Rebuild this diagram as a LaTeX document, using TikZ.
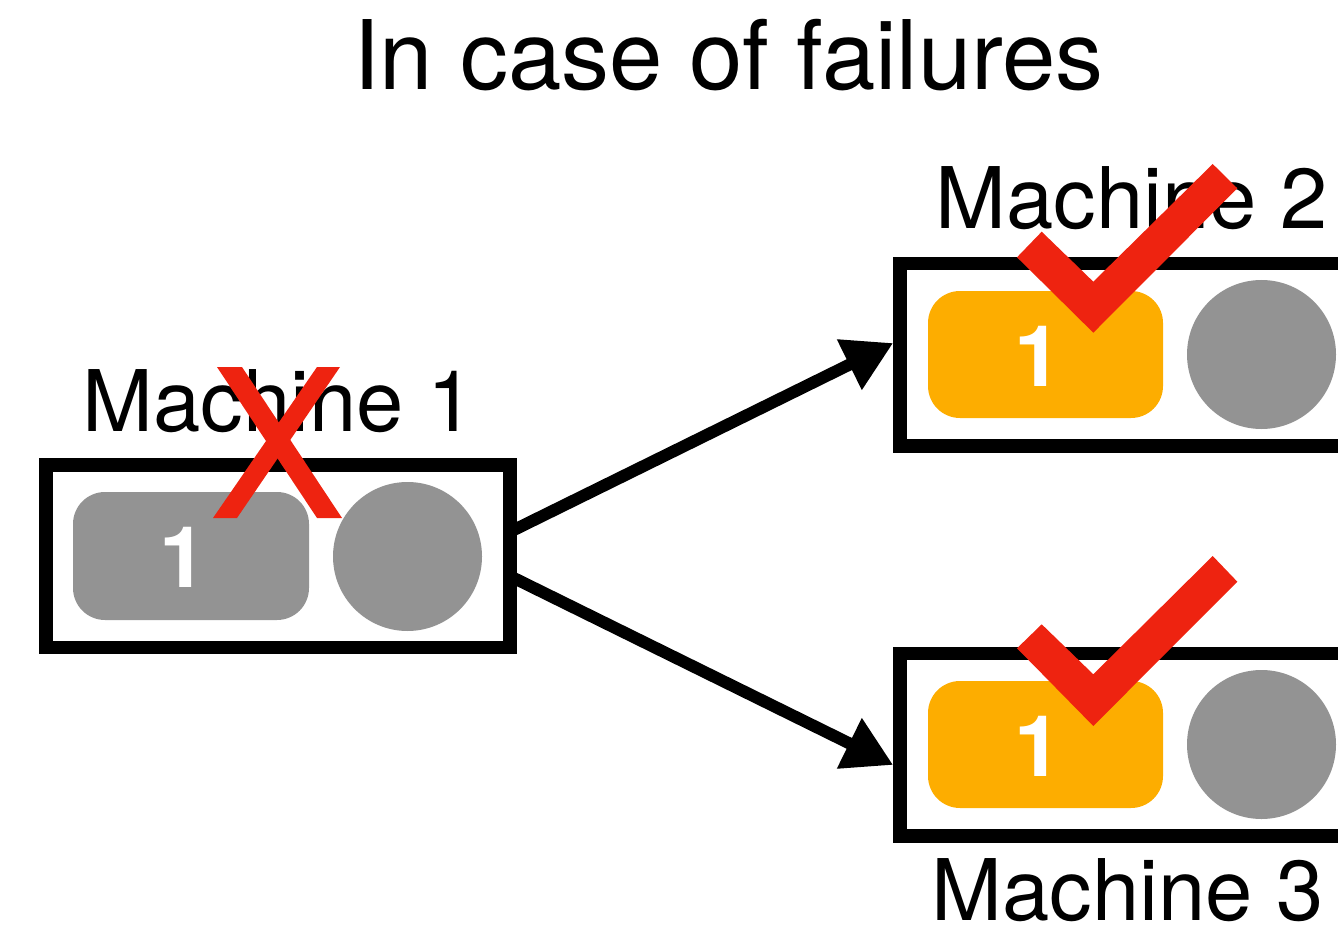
\documentclass[tikz,border=0pt]{standalone}
\usepackage{fontspec}
\setmainfont{TeX Gyre Heros}
\usetikzlibrary{arrows.meta}
\definecolor{failred}{RGB}{238,35,16}
\definecolor{taskgray}{RGB}{147,147,147}
\definecolor{taskorange}{RGB}{253,173,0}
\tikzset{
  machinebox/.style={draw=black, line width=13.5pt, rectangle, inner sep=0pt,
    minimum height=182.5pt},
  taskbox/.style={rectangle, rounded corners=32pt, inner sep=0pt,
    minimum width=235pt, minimum height=127pt},
  slot/.style={circle, fill=taskgray, inner sep=0pt, minimum size=149pt},
  tasknum/.style={anchor=base, inner sep=0pt, text=white,
    font=\fontsize{85}{100}\selectfont\bfseries},
  machinelabel/.style={anchor=base, inner sep=0pt,
    font=\fontsize{85}{100}\selectfont},
  flow/.style={line width=12pt, -{Triangle[length=49pt, width=53pt]}},
  statusmark/.style={fill=failred}
}
\begin{document}
\begin{tikzpicture}[x=1pt, y=-1pt]
  \useasboundingbox (0,0) rectangle (1338,925);
  \clip (0,0) rectangle (1338,925);

  % title
  \node[anchor=base, inner sep=0pt, font=\fontsize{96}{110}\selectfont]
    (title) at (728.5,90) {In case of failures};

  % machine 1 (failed)
  \node[machinebox, minimum width=464pt] (m1) at (278,556.25) {};
  \node[taskbox, fill=taskgray, minimum width=236pt, minimum height=128pt]
    (t1) at (191,556) {};
  \node[tasknum] (n1) at (183.6,587) {1};
  \node[slot] (s1) at (407.5,556.5) {};
  \node[machinelabel] (l1) at (278.5,431) {Machine 1};

  % machine 2
  \node[machinebox, minimum width=480pt] (m2) at (1140,354.75) {};
  \node[taskbox, fill=taskorange] (t2) at (1045.5,354.5) {};
  \node[tasknum] (n2) at (1038.6,386) {1};
  \node[slot] (s2) at (1261.5,354.5) {};
  \node[machinelabel] (l2) at (1131.5,229) {Machine 2};

  % machine 3
  \node[machinebox, minimum width=480pt] (m3) at (1140,744.75) {};
  \node[taskbox, fill=taskorange] (t3) at (1045.5,744.5) {};
  \node[tasknum] (n3) at (1038.6,776) {1};
  \node[slot] (s3) at (1261.5,744.5) {};
  \node[machinelabel] (l3) at (1127.5,920) {Machine 3};

  % replication arrows
  \draw[flow] ([xshift=-6pt, yshift=24.75pt]m1.east) -- ([yshift=11.75pt]m2.west);
  \draw[flow] ([xshift=-6pt, yshift=-20.25pt]m1.east) -- ([yshift=-20.25pt]m3.west);

  % cross over machine 1
  \fill[statusmark] (217,367) -- (242,367) -- (342,518) -- (317,518) -- cycle;
  \fill[statusmark] (317,367) -- (340,367) -- (237,518) -- (213,518) -- cycle;

  % ticks over machines 2 and 3
  \fill[statusmark] (1017,257.3) -- (1093.3,332.7) -- (1237.3,188.3) -- (1212.7,164)
    -- (1093.3,281.7) -- (1041.7,231.7) -- cycle;
  \fill[statusmark] (1017,648.3) -- (1093.3,726) -- (1237.3,581.7) -- (1212.7,556)
    -- (1093.3,674.3) -- (1041.7,624.3) -- cycle;
\end{tikzpicture}
\end{document}
